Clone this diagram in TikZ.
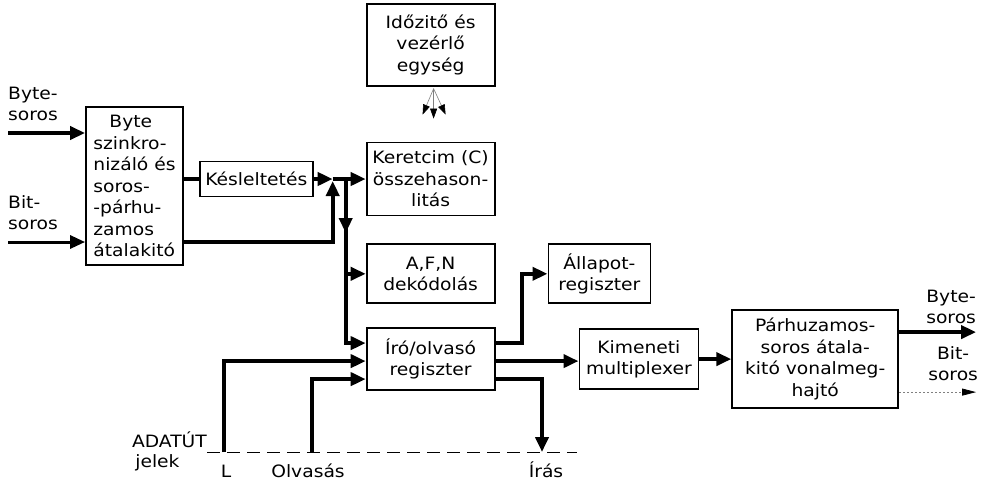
\documentclass[tikz,border=0pt]{standalone}
\usepackage{fontspec}
\setmainfont{DejaVu Sans}[FakeStretch=1.1]
\usetikzlibrary{positioning,arrows.meta}

\begin{document}
\begin{tikzpicture}[
  x=1pt, y=1pt,
  font=\fontsize{17}{21.5}\selectfont, >={Triangle[length=15pt,width=13pt]},
  blk/.style={draw, line width=1.8pt, align=center, inner sep=2pt},
  bus/.style={line width=4pt},
  thinbus/.style={line width=3pt},
  fan/.style={line width=0.6pt, gray, >={Triangle[length=10pt,width=7pt,color=black]}},
  lbl/.style={align=left, inner sep=0pt},
]
\useasboundingbox (0,0) rectangle (981,-483);

% boxes
\node[blk, align=left, minimum width=97pt, minimum height=158pt] (sync) at (134.5,-186)
  {\hspace*{16pt}Byte\\szinkro-\\nizáló és\\soros-\\-párhu-\\zamos\\átalakitó};
\node[blk, minimum width=113pt, minimum height=35pt, right=15pt of sync.east, yshift=7pt] (kesl) {Késleltetés};
\node[blk, minimum width=128pt, minimum height=73pt, right=52pt of kesl] (keret) {Keretcim (C)\\összehason-\\litás};
\node[blk, minimum width=128pt, minimum height=82pt, above=55pt of keret] (idozito) {Időzitő és\\vezérlő\\egység};
\node[blk, minimum width=128pt, minimum height=59pt, below=27pt of keret] (afn) {A,F,N\\dekódolás};
\node[blk, minimum width=128pt, minimum height=62pt, below=23pt of afn] (iro) {Író/olvasó\\regiszter};
\node[blk, minimum width=102pt, minimum height=59pt, right=52pt of afn] (allapot) {Állapot-\\regiszter};
\node[blk, minimum width=119pt, minimum height=60pt, right=83pt of iro] (kimen) {Kimeneti\\multiplexer};
\node[blk, minimum width=166pt, minimum height=98pt, right=32pt of kimen] (parh) {Párhuzamos-\\soros átala-\\kitó vonalmeg-\\hajtó};

% inputs
\coordinate (bytein) at (8,-133);
\coordinate (bitin) at (8,-242);
\node[lbl, above right=12pt and 0pt of bytein] (bytelbl) {Byte-\\soros};
\node[lbl, above right=12pt and 0pt of bitin] (bitlbl) {Bit-\\soros};
\draw[bus,->] (bytein) -- (bytein -| sync.west);
\draw[thinbus,->] (bitin) -- (bitin -| sync.west);

% junction
\coordinate (j1) at ([xshift=19pt]kesl.east);
\coordinate (j2) at ([xshift=32pt]kesl.east);
\draw[bus] (sync.east |- kesl) -- (kesl);
\draw[bus,->] (kesl) -- (j1);
\draw[bus,->] (j1) -- (keret);
\draw[bus,->,shorten >=2pt] (sync.east |- bitin) -| (j1);
\draw[bus,->] (j2) -- ([yshift=-54pt]j2);

% register in/out
\coordinate (i1) at ([yshift=16pt]iro.west);
\coordinate (i2) at ([yshift=-2pt]iro.west);
\coordinate (i3) at ([yshift=-20pt]iro.west);
\coordinate (o1) at ([yshift=16pt]iro.east);
\coordinate (o2) at ([yshift=-2pt]iro.east);
\coordinate (o3) at ([yshift=-20pt]iro.east);
\coordinate (k1) at ([xshift=26pt]o1);
\draw[bus,->] (j2) |- (i1);
\draw[bus,->] (j2 |- afn) -- (afn);
\draw[bus,->] (o1) -- (k1) |- (allapot);
\draw[bus,->] (o2) -- (o2 -| kimen.west);
\draw[bus,->] (kimen) -- (parh);

% timing fan
\coordinate (tc) at ([xshift=3pt,yshift=-2pt]idozito.south);
\coordinate (f1) at ([xshift=-11pt,yshift=-26pt]tc);
\coordinate (f2) at ([yshift=-30pt]tc);
\coordinate (f3) at ([xshift=12pt,yshift=-26pt]tc);
\draw[fan,->] (tc) -- (f1);
\draw[fan,->] (tc) -- (f2);
\draw[fan,->] (tc) -- (f3);

% data path signals
\coordinate (dstart) at (207,-452);
\coordinate (dend) at (577,-452);
\coordinate (ltap) at (224,-452);
\coordinate (olvtap) at (312,-452);
\coordinate (irastap) at (542,-452);
\draw[line width=1pt, dash pattern=on 13pt off 7pt] (dstart) -- (dend);
\draw[bus,->] (ltap) |- (i2);
\draw[bus,->] (olvtap) |- (i3);
\draw[bus,->] (o3) -| (irastap);
\node[anchor=base east, inner sep=0pt] (adat) at ([yshift=5pt]dstart) {ADATÚT};
\node[anchor=base, inner sep=0pt] (jelek) at ([xshift=-12pt,yshift=-20pt]adat.base) {jelek};
\node[anchor=base, inner sep=0pt] (llbl) at ([xshift=2pt,yshift=-25pt]ltap) {L};
\node[anchor=base, inner sep=0pt] (olvlbl) at ([xshift=-4pt,yshift=-25pt]olvtap) {Olvasás};
\node[anchor=base, inner sep=0pt] (iraslbl) at ([xshift=4pt,yshift=-25pt]irastap) {Írás};

% outputs
\coordinate (bo) at ([yshift=27pt]parh.east);
\coordinate (boend) at ([xshift=77pt]bo);
\coordinate (bi) at ([yshift=-33pt]parh.east);
\coordinate (biend) at ([xshift=77pt]bi);
\draw[bus,->] (bo) -- (boend);
\draw[line width=0.8pt, gray, dash pattern=on 2pt off 2pt, ->, >={Triangle[length=14pt,width=7pt,color=black]}] (bi) -- (biend);
\node[align=center, inner sep=0pt, anchor=south] (bytelbl2) at ([xshift=-25pt,yshift=8pt]boend) {Byte-\\soros};
\node[align=center, inner sep=0pt, anchor=north] (bitlbl2) at ([xshift=-23pt,yshift=-14pt]boend) {Bit-\\soros};
\end{tikzpicture}
\end{document}
